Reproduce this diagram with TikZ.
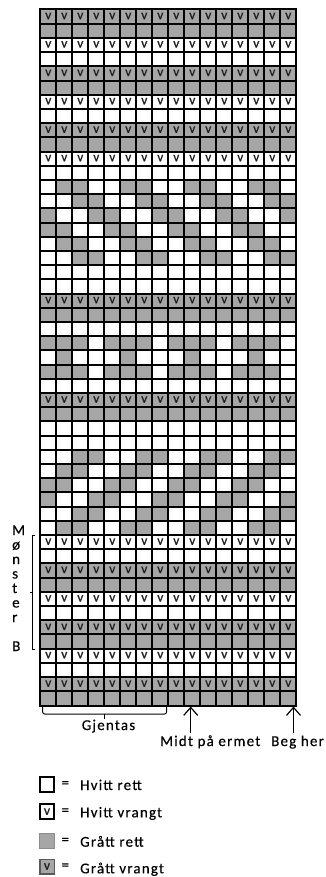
\documentclass[tikz,border=0pt]{standalone}
\usepackage{fontspec}
\setmainfont{Carlito}
\newfontfamily\lblfont[LetterSpace=8,FakeBold=0.35]{Carlito}
\newfontfamily\vfont[FakeBold=0.8]{Carlito}
\newfontfamily\vertfont[FakeBold=0.35]{Carlito}
\usetikzlibrary{arrows.meta}
\definecolor{gcell}{RGB}{166,166,166}
\definecolor{gedge}{RGB}{140,140,140}
\definecolor{gdark}{RGB}{89,89,89}
\definecolor{vcol}{RGB}{30,30,30}
\begin{document}
\begin{tikzpicture}[x=1pt,y=-1pt,
  gridline/.style={line width=2pt,line cap=rect},
  vmark/.style={inner sep=0pt,text=vcol,font=\fontsize{13.5}{13.5}\vfont},
  lbl/.style={inner sep=0pt,font=\fontsize{15}{18}\selectfont\lblfont},
  vlet/.style={inner sep=0pt,anchor=base west,font=\fontsize{15}{18}\selectfont\vertfont},
  thinline/.style={line width=1pt},
  upar/.style={line width=1.2pt,-{Straight Barb[length=8pt,width=14pt]}},
  legbox/.style={minimum size=14.5pt,inner sep=0pt,text=vcol,font=\fontsize{13.5}{13.5}\vfont}]
\useasboundingbox (0,0) rectangle (325,877);
\def\X{39.5}\def\Y{9.5}\def\W{16}\def\H{14.2041}
% cells
\foreach \r/\pa/\pb/\pc/\pd/\vv in {
 1/1/1/1/1/1, 2/1/1/1/1/0, 3/0/0/0/0/1, 4/0/0/0/0/0,
 5/1/1/1/1/1, 6/1/1/1/1/0, 7/0/0/0/0/1, 8/0/0/0/0/0,
 9/1/1/1/1/1, 10/1/1/1/1/0, 11/0/0/0/0/1, 12/0/0/0/0/0,
 13/0/1/1/0/0, 14/0/0/1/1/0, 15/1/0/0/1/0, 16/1/1/0/0/0,
 17/0/1/1/0/0, 18/0/0/1/1/0, 19/0/0/0/0/0, 20/0/0/0/0/0,
 21/1/1/1/1/1, 22/1/1/1/1/0, 23/0/0/0/0/0,
 24/1/1/1/0/0, 25/0/1/0/0/0, 26/1/1/1/0/0, 27/0/0/0/0/0,
 28/1/1/1/1/1, 29/1/1/1/1/0, 30/0/0/0/0/0, 31/0/0/0/0/0,
 32/0/0/1/1/0, 33/0/1/1/0/0, 34/1/1/0/0/0, 35/1/0/0/1/0,
 36/0/0/1/1/0, 37/0/1/1/0/0,
 38/0/0/0/0/1, 39/0/0/0/0/0, 40/1/1/1/1/1, 41/1/1/1/1/0,
 42/0/0/0/0/1, 43/0/0/0/0/0, 44/1/1/1/1/1, 45/1/1/1/1/0,
 46/0/0/0/0/1, 47/0/0/0/0/0, 48/1/1/1/1/1, 49/1/1/1/1/0}{
  \foreach \c in {1,...,16}{
    \pgfmathtruncatemacro\ph{mod(\c-1,4)}
    \ifcase\ph\edef\g{\pa}\or\edef\g{\pb}\or\edef\g{\pc}\or\edef\g{\pd}\fi
    \ifnum\g=1
      \fill[gcell] ({\X+(\c-1)*\W},{\Y+(\r-1)*\H}) rectangle ({\X+\c*\W},{\Y+\r*\H});
    \fi
    \ifnum\vv=1
      \node[vmark] (v-\r-\c) at ({\X+(\c-0.5)*\W+0.8},{\Y+(\r-0.5)*\H-0.6}) {v};
    \fi
  }
}
% grid lines
\foreach \c in {0,...,16}
  \draw[gridline] ({\X+\c*\W},\Y) -- ({\X+\c*\W},{\Y+49*\H});
\foreach \r in {0,...,49}
  \draw[gridline] (\X,{\Y+\r*\H}) -- ({\X+16*\W},{\Y+\r*\H});
% Monster B
\foreach \ch [count=\i] in {M,ø,n,s,t,e,r,{},B}
  \node[vlet] (mb\i) at (12,{535+(\i-1)*14.5}) {\ch};
\coordinate (brT) at (35,535);
\coordinate (brB) at (35,649);
\coordinate (brM) at (29.5,592);
\draw[thinline] (brT) -- (32.5,535) -- (32.5,649) -- (brB);
\draw[thinline] (32.5,592) -- (brM);
% Gjentas brace
\coordinate (gjL) at (42.7,706);
\coordinate (gjR) at (166.5,706);
\coordinate (gjM) at (104,718.5);
\draw[thinline,rounded corners=2pt] (gjL) -- (42.7,714) -- (166.5,714) -- (gjR);
\draw[thinline] (104,714) -- (gjM);
\node[lbl,anchor=base] (gjentas) at (108.5,730) {Gjentas};
% arrows
\coordinate (midtTip) at (190.7,706.5);
\coordinate (midtFoot) at (190.7,733);
\coordinate (begTip) at (293.5,706.5);
\coordinate (begFoot) at (293.5,733);
\draw[upar] (midtFoot) -- (midtTip);
\draw[upar] (begFoot) -- (begTip);
\node[lbl,anchor=base west] (midt) at (160,746) {Midt på ermet};
\node[lbl,anchor=base west] (beg) at (271,746) {Beg her};
% legend
\node[legbox,draw,line width=2pt,fill=white] (lb1) at (47,784.3) {};
\node[legbox,draw,line width=2pt,fill=white] (lb2) at (47,811.7) {v};
\node[legbox,draw=gedge,line width=1pt,fill=gcell] (lb3) at (47,841) {};
\node[legbox,draw=gdark,line width=1.5pt,fill=gcell] (lb4) at (47,866.5) {v};
\foreach \i/\yy/\bl/\t in {1/784.3/790/Hvitt rett, 2/811.7/817.3/Hvitt vrangt, 3/841/846.7/Grått rett, 4/866.5/873.3/Grått vrangt}{
  \node[lbl] (eq\i) at (65.3,\yy) {=};
  \node[lbl,anchor=base west] (lt\i) at (80,\bl) {\t};
}
\end{tikzpicture}
\end{document}
